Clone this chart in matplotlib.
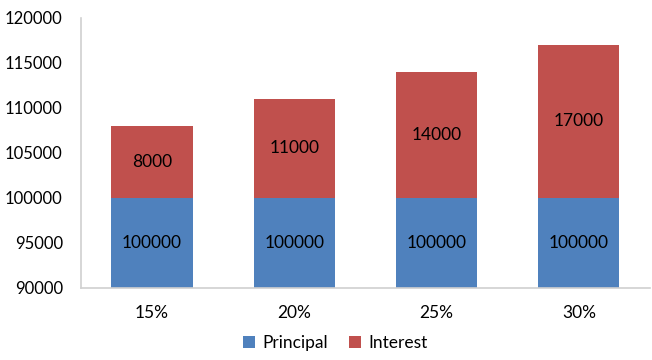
import matplotlib
matplotlib.use("Agg")
import matplotlib.pyplot as plt
import numpy as np

categories = ["15%", "20%", "25%", "30%"]
principal = [100000, 100000, 100000, 100000]
interest = [8000, 11000, 14000, 17000]

plt.rcParams['font.family'] = ['Lato', 'DejaVu Sans']

fig = plt.figure(figsize=(6.52, 3.6), dpi=100)
ax = fig.add_axes([0.124, 0.2, 0.873, 0.75])

x = np.arange(len(categories))
w = 0.57
blue = "#4F81BD"
red = "#C0504D"
b1 = ax.bar(x, principal, w, color=blue, label="Principal")
b2 = ax.bar(x, interest, w, bottom=principal, color=red, label="Interest")

ymin = 90000
for i in range(len(categories)):
    ax.text(x[i], (ymin + principal[i]) / 2, str(principal[i]), ha="center", va="center", fontsize=12.5)
    ax.text(x[i], principal[i] + interest[i] / 2, str(interest[i]), ha="center", va="center", fontsize=12.5)

ax.set_ylim(90000, 120000)
ax.set_yticks(np.arange(90000, 120001, 5000))
ax.set_xlim(-0.5, len(categories) - 0.5)
ax.set_xticks(x)
ax.set_xticklabels(categories)
ax.tick_params(axis="x", length=0, labelsize=12.5, pad=12)
ax.tick_params(axis="y", length=0, labelsize=12, pad=13)
for s in ["top", "right"]:
    ax.spines[s].set_visible(False)
for s in ["left", "bottom"]:
    ax.spines[s].set_color("#D0D0D0")
    ax.spines[s].set_linewidth(1.2)

ax.legend(loc="center", bbox_to_anchor=(0.447, -0.205), ncol=2, frameon=False,
          fontsize=12.5, handlelength=0.7, handleheight=0.7, columnspacing=1.2, handletextpad=0.4)

fig.savefig("out.png", dpi=100)
